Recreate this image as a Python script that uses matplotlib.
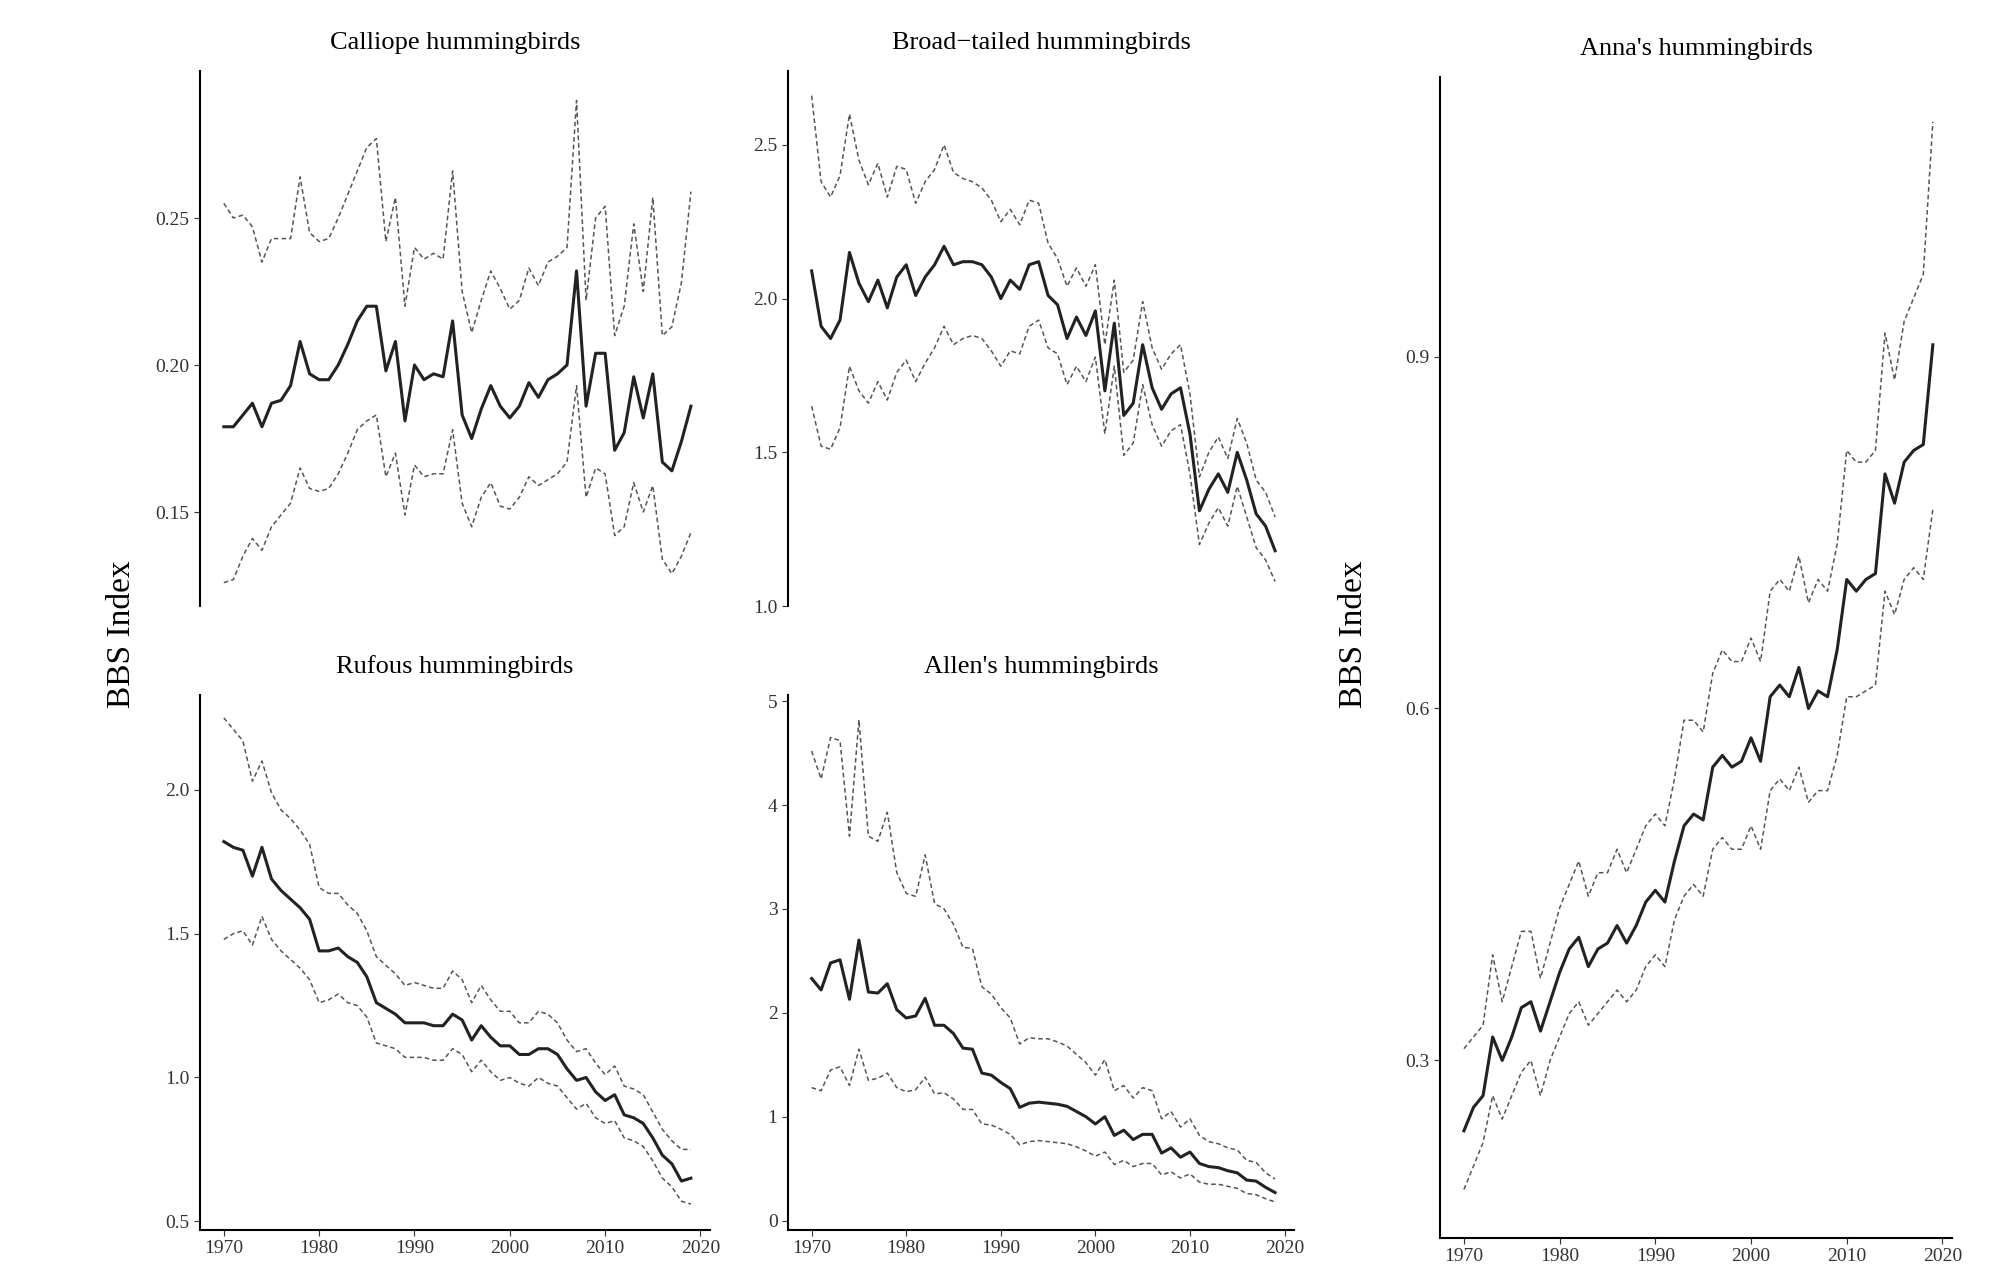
import numpy as np
import matplotlib
matplotlib.use("Agg")
import matplotlib.pyplot as plt

years = np.arange(1970, 2020)

calliope_mean = [0.179,0.179,0.183,0.187,0.179,0.187,0.188,0.193,0.208,0.197,0.195,0.195,0.200,0.207,0.215,0.220,0.220,0.198,0.208,0.181,0.200,0.195,0.197,0.196,0.215,0.183,0.175,0.185,0.193,0.186,0.182,0.186,0.194,0.189,0.195,0.197,0.200,0.232,0.186,0.204,0.204,0.171,0.177,0.196,0.182,0.197,0.167,0.164,0.174,0.186]
calliope_hi = [0.255,0.250,0.251,0.247,0.235,0.243,0.243,0.243,0.264,0.245,0.242,0.243,0.250,0.258,0.266,0.274,0.277,0.242,0.257,0.220,0.240,0.236,0.238,0.236,0.266,0.225,0.211,0.222,0.232,0.226,0.219,0.222,0.233,0.227,0.235,0.237,0.240,0.290,0.222,0.250,0.254,0.210,0.220,0.248,0.225,0.257,0.210,0.213,0.228,0.259]
calliope_lo = [0.126,0.127,0.135,0.141,0.137,0.145,0.149,0.153,0.165,0.158,0.157,0.158,0.163,0.170,0.178,0.181,0.183,0.162,0.170,0.149,0.166,0.162,0.163,0.163,0.178,0.153,0.145,0.155,0.160,0.152,0.151,0.155,0.162,0.159,0.161,0.163,0.167,0.193,0.155,0.165,0.163,0.142,0.145,0.160,0.150,0.159,0.134,0.129,0.135,0.143]

broad_mean = [2.09,1.91,1.87,1.93,2.15,2.05,1.99,2.06,1.97,2.07,2.11,2.01,2.07,2.11,2.17,2.11,2.12,2.12,2.11,2.07,2.00,2.06,2.03,2.11,2.12,2.01,1.98,1.87,1.94,1.88,1.96,1.70,1.92,1.62,1.66,1.85,1.71,1.64,1.69,1.71,1.56,1.31,1.38,1.43,1.37,1.50,1.41,1.30,1.26,1.18]
broad_hi = [2.66,2.38,2.33,2.40,2.60,2.45,2.37,2.44,2.33,2.43,2.42,2.31,2.38,2.42,2.50,2.41,2.39,2.38,2.36,2.32,2.25,2.29,2.24,2.32,2.31,2.18,2.13,2.04,2.10,2.04,2.11,1.85,2.06,1.76,1.80,1.99,1.84,1.77,1.82,1.85,1.69,1.42,1.50,1.55,1.48,1.61,1.53,1.41,1.37,1.29]
broad_lo = [1.65,1.52,1.51,1.58,1.78,1.70,1.66,1.73,1.67,1.76,1.80,1.73,1.79,1.84,1.91,1.85,1.87,1.88,1.87,1.83,1.78,1.83,1.82,1.91,1.93,1.84,1.82,1.72,1.78,1.73,1.81,1.56,1.78,1.49,1.53,1.72,1.59,1.52,1.57,1.59,1.43,1.20,1.27,1.32,1.26,1.39,1.29,1.19,1.15,1.08]

rufous_mean = [1.82,1.80,1.79,1.70,1.80,1.69,1.65,1.62,1.59,1.55,1.44,1.44,1.45,1.42,1.40,1.35,1.26,1.24,1.22,1.19,1.19,1.19,1.18,1.18,1.22,1.20,1.13,1.18,1.14,1.11,1.11,1.08,1.08,1.10,1.10,1.08,1.03,0.99,1.00,0.95,0.92,0.94,0.87,0.86,0.84,0.79,0.73,0.70,0.64,0.65]
rufous_hi = [2.25,2.21,2.17,2.03,2.10,1.99,1.93,1.90,1.86,1.81,1.66,1.64,1.64,1.60,1.57,1.51,1.42,1.39,1.36,1.32,1.33,1.32,1.31,1.31,1.37,1.34,1.26,1.32,1.27,1.23,1.23,1.19,1.19,1.23,1.22,1.19,1.13,1.09,1.10,1.05,1.01,1.04,0.97,0.96,0.94,0.88,0.82,0.78,0.75,0.75]
rufous_lo = [1.48,1.50,1.51,1.46,1.56,1.48,1.44,1.41,1.38,1.34,1.26,1.27,1.29,1.26,1.25,1.21,1.12,1.11,1.10,1.07,1.07,1.07,1.06,1.06,1.10,1.08,1.02,1.06,1.02,0.99,1.00,0.98,0.97,1.00,0.98,0.97,0.93,0.89,0.91,0.86,0.84,0.85,0.79,0.78,0.76,0.71,0.65,0.62,0.57,0.56]

allen_mean = [2.33,2.22,2.48,2.51,2.13,2.70,2.20,2.19,2.28,2.03,1.95,1.97,2.14,1.88,1.88,1.80,1.66,1.65,1.42,1.40,1.33,1.27,1.09,1.13,1.14,1.13,1.12,1.10,1.05,1.00,0.93,1.00,0.82,0.87,0.78,0.83,0.83,0.65,0.70,0.61,0.66,0.55,0.52,0.51,0.48,0.46,0.39,0.38,0.32,0.27]
allen_hi = [4.52,4.25,4.65,4.62,3.70,4.82,3.70,3.65,3.93,3.35,3.15,3.12,3.52,3.05,3.00,2.85,2.63,2.62,2.25,2.18,2.05,1.95,1.70,1.76,1.75,1.75,1.72,1.68,1.60,1.52,1.40,1.55,1.25,1.30,1.18,1.28,1.25,0.98,1.05,0.90,0.98,0.82,0.76,0.74,0.70,0.68,0.58,0.56,0.46,0.40]
allen_lo = [1.28,1.25,1.45,1.48,1.30,1.65,1.35,1.37,1.42,1.28,1.24,1.26,1.38,1.22,1.23,1.17,1.07,1.07,0.93,0.92,0.88,0.83,0.73,0.76,0.77,0.76,0.75,0.74,0.71,0.67,0.62,0.66,0.54,0.58,0.52,0.55,0.55,0.44,0.47,0.41,0.45,0.37,0.35,0.35,0.33,0.31,0.26,0.25,0.21,0.18]

anna_mean = [0.24,0.26,0.27,0.32,0.30,0.32,0.345,0.35,0.325,0.35,0.375,0.395,0.405,0.38,0.395,0.40,0.415,0.40,0.415,0.435,0.445,0.435,0.47,0.50,0.51,0.505,0.55,0.56,0.55,0.555,0.575,0.555,0.61,0.62,0.61,0.635,0.60,0.615,0.61,0.65,0.71,0.70,0.71,0.715,0.80,0.775,0.81,0.82,0.825,0.91]
anna_hi = [0.31,0.32,0.33,0.39,0.35,0.38,0.41,0.41,0.37,0.40,0.43,0.45,0.47,0.44,0.46,0.46,0.48,0.46,0.48,0.50,0.51,0.50,0.54,0.59,0.59,0.58,0.63,0.65,0.64,0.64,0.66,0.64,0.70,0.71,0.70,0.73,0.69,0.71,0.70,0.74,0.82,0.81,0.81,0.82,0.92,0.88,0.93,0.95,0.97,1.10]
anna_lo = [0.19,0.21,0.23,0.27,0.25,0.27,0.29,0.30,0.27,0.30,0.32,0.34,0.35,0.33,0.34,0.35,0.36,0.35,0.36,0.38,0.39,0.38,0.42,0.44,0.45,0.44,0.48,0.49,0.48,0.48,0.50,0.48,0.53,0.54,0.53,0.55,0.52,0.53,0.53,0.56,0.61,0.61,0.615,0.62,0.70,0.68,0.71,0.72,0.71,0.77]

plt.rcParams['font.family'] = 'Liberation Serif'

fig = plt.figure(figsize=(20, 12.68), dpi=100)

panels = [
    # title, mean, lo, hi, rect, ylim, yticks, show x axis
    ("Calliope hummingbirds", calliope_mean, calliope_lo, calliope_hi,
     [0.100, 0.522, 0.255, 0.422], (0.118, 0.30), [0.15, 0.20, 0.25], False),
    ("Broad\u2212tailed hummingbirds", broad_mean, broad_lo, broad_hi,
     [0.394, 0.522, 0.253, 0.422], (1.0, 2.74), [1.0, 1.5, 2.0, 2.5], False),
    ("Rufous hummingbirds", rufous_mean, rufous_lo, rufous_hi,
     [0.100, 0.030, 0.255, 0.422], (0.47, 2.33), [0.5, 1.0, 1.5, 2.0], True),
    ("Allen's hummingbirds", allen_mean, allen_lo, allen_hi,
     [0.394, 0.030, 0.253, 0.422], (-0.09, 5.06), [0, 1, 2, 3, 4, 5], True),
    ("Anna's hummingbirds", anna_mean, anna_lo, anna_hi,
     [0.720, 0.024, 0.256, 0.915], (0.149, 1.138), [0.3, 0.6, 0.9], True),
]

for title, m, lo, hi, rect, ylim, yt, showx in panels:
    ax = fig.add_axes(rect)
    ax.plot(years, hi, color='#555555', ls='--', lw=1.1, dashes=(3, 2))
    ax.plot(years, lo, color='#555555', ls='--', lw=1.1, dashes=(3, 2))
    ax.plot(years, m, color='#222222', lw=2.2)
    ax.set_xlim(1967.5, 2021.0)
    ax.set_ylim(*ylim)
    ax.set_yticks(yt)
    if isinstance(yt[0], float) and yt[0] < 0.5:
        ax.set_yticklabels([f"{v:.2f}" if v < 0.3 else f"{v:.1f}" for v in yt])
    ax.set_title(title, fontsize=19, pad=16)
    for s in ['top', 'right']:
        ax.spines[s].set_visible(False)
    ax.spines['left'].set_linewidth(1.5)
    ax.tick_params(labelsize=14, colors='#333333', length=4)
    if showx:
        ax.set_xticks([1970, 1980, 1990, 2000, 2010, 2020])
        ax.spines['bottom'].set_linewidth(1.5)
    else:
        ax.spines['bottom'].set_visible(False)
        ax.set_xticks([])

fig.text(0.061, 0.5, "BBS Index", rotation=90, fontsize=24, va='center', ha='center')
fig.text(0.677, 0.5, "BBS Index", rotation=90, fontsize=24, va='center', ha='center')

fig.savefig("out.png", dpi=100)
